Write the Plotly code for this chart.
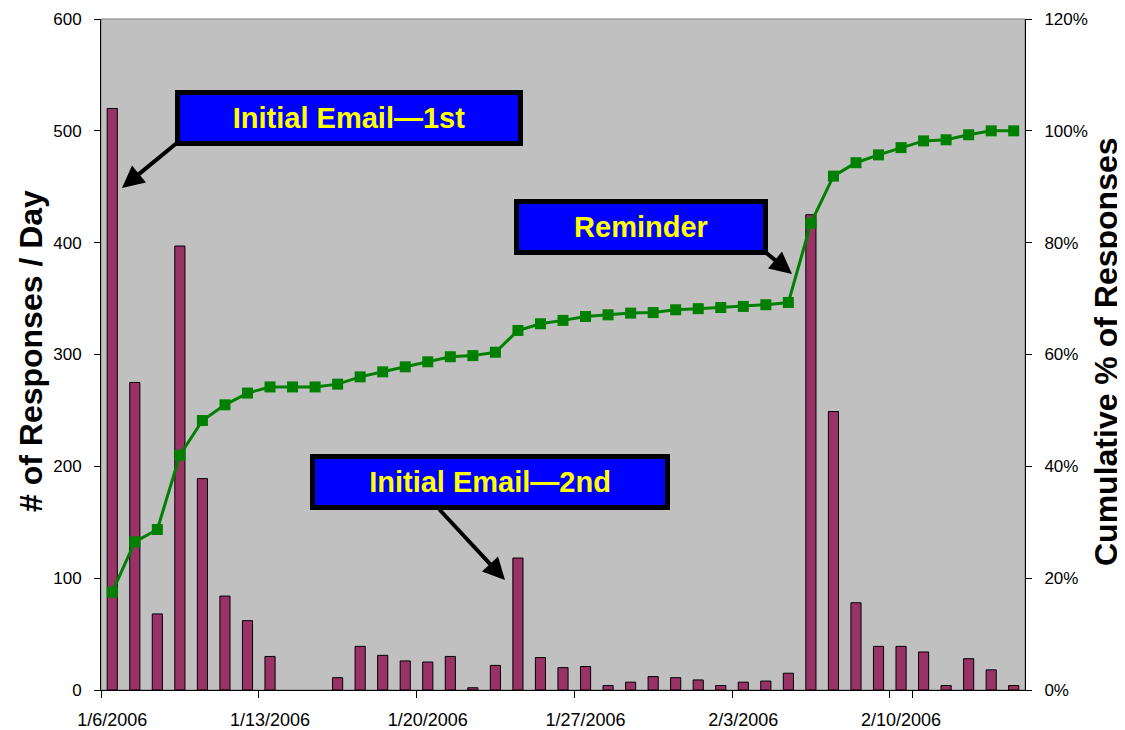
import pandas as pd
import plotly.graph_objects as go

# ---------------- data ----------------
dates = [d.strftime("%-m/%-d/%Y") for d in pd.date_range("2006-01-06", "2006-02-15", freq="D")]

responses_per_day = [520, 275, 68, 397, 189, 84, 62, 30, 0, 0,
                     11, 39, 31, 26, 25, 30, 2, 22, 118, 29,
                     20, 21, 4, 7, 12, 11, 9, 4, 7, 8,
                     15, 425, 249, 78, 39, 39, 34, 4, 28, 18,
                     4]

cumulative_pct = [17.5, 26.5, 28.7, 42.0, 48.2, 51.0, 53.1, 54.2, 54.2, 54.2,
                  54.7, 56.0, 56.9, 57.8, 58.7, 59.6, 59.8, 60.4, 64.3, 65.5,
                  66.1, 66.8, 67.1, 67.4, 67.5, 68.0, 68.2, 68.4, 68.6, 68.9,
                  69.3, 83.5, 91.9, 94.3, 95.7, 97.0, 98.2, 98.4, 99.3, 100.0,
                  100.0]

tick_labels = ["1/6/2006", "1/13/2006", "1/20/2006", "1/27/2006", "2/3/2006", "2/10/2006"]

left_title = "# of Responses / Day"
right_title = "Cumulative % of Responses"
callouts = ["Initial Email\u20141st", "Reminder", "Initial Email\u20142nd"]

FONT = "Arial, Liberation Sans, Helvetica, sans-serif"

# plot area in window pixels (page body adds an 8px offset)
OFF = 8
L, R, T, B = 101, 1025, 19, 690
W, H = R - L, B - T
FW, FH = 1125, 730


def px(X):
    return (X - L) / W


def py(Y):
    return (B - Y) / H


fig = go.Figure()
fig.add_trace(go.Bar(
    x=dates, y=responses_per_day,
    marker=dict(color="#993366",
                line=dict(color="black", width=[1 if v > 0 else 0 for v in responses_per_day])),
    yaxis="y", showlegend=False,
))
fig.add_trace(go.Scatter(
    x=dates, y=cumulative_pct, yaxis="y2", mode="lines+markers",
    line=dict(color="#008000", width=3),
    marker=dict(symbol="square", size=11, color="#008000"),
    showlegend=False,
))

annotations = []
# arrows (tail -> head), drawn first so the boxes cover the tails
arrows = [((178, 142), (122, 188)), ((764, 251), (792, 274)), ((438, 508), (505, 580))]
for (tx, ty), (hx, hy) in arrows:
    annotations.append(dict(
        xref="paper", yref="paper", x=px(hx), y=py(hy), ax=tx - hx, ay=ty - hy,
        text="", showarrow=True, arrowhead=2, arrowsize=1.1, arrowwidth=4,
        arrowcolor="black", standoff=0, startstandoff=0,
    ))

boxes = [((348.5, 118.5), 338), ((640.5, 227.5), 244), ((490, 482), 350)]
for text, ((cx, cy), bw) in zip(callouts, boxes):
    annotations.append(dict(
        xref="paper", yref="paper", x=px(cx), y=py(cy), xanchor="center", yanchor="middle",
        text="<b>%s</b>" % text, showarrow=False,
        font=dict(family=FONT, size=29, color="#FFFF00"),
        bgcolor="#0000FF", bordercolor="black", borderwidth=5, borderpad=0,
        width=bw, height=46,
    ))

# axis titles
annotations.append(dict(
    xref="paper", yref="paper", x=px(31), y=py(351), xanchor="center", yanchor="middle",
    text="<b>%s</b>" % left_title, textangle=-90, showarrow=False,
    font=dict(family=FONT, size=32, color="black"),
))
annotations.append(dict(
    xref="paper", yref="paper", x=px(1106), y=py(352), xanchor="center", yanchor="middle",
    text="<b>%s</b>" % right_title, textangle=-90, showarrow=False,
    font=dict(family=FONT, size=32, color="black"),
))

fig.update_layout(
    width=FW, height=FH,
    margin=dict(l=L - OFF, r=FW + OFF - R, t=T - OFF, b=FH + OFF - B, pad=0, autoexpand=False),
    paper_bgcolor="white", plot_bgcolor="#C0C0C0",
    bargap=0.55,
    font=dict(family=FONT, color="black"),
    xaxis=dict(
        type="category", range=[-0.5, len(dates) - 0.5], autorange=False,
        tickmode="array", tickvals=tick_labels, ticktext=tick_labels, tickangle=0,
        tickson="boundaries", ticks="outside", ticklen=7, tickcolor="black",
        showline=True, linecolor="black", linewidth=1, showgrid=False, zeroline=False,
        tickfont=dict(size=18), ticklabelstandoff=13, automargin=False,
    ),
    yaxis=dict(
        range=[0, 600], dtick=100, ticks="outside", ticklen=6, tickcolor="black",
        showline=True, linecolor="black", linewidth=1, showgrid=False, zeroline=False,
        tickfont=dict(size=17), ticklabelstandoff=9, automargin=False,
    ),
    yaxis2=dict(
        range=[0, 120], dtick=20, ticksuffix="%", overlaying="y", side="right", anchor="x",
        ticks="outside", ticklen=6, tickcolor="black",
        showline=True, linecolor="black", linewidth=1, showgrid=False, zeroline=False,
        tickfont=dict(size=17), ticklabelstandoff=9, automargin=False,
    ),
    shapes=[dict(type="rect", xref="paper", yref="paper", x0=0, y0=0, x1=1, y1=1,
                 line=dict(color="#808080", width=1), layer="below")],
    annotations=annotations,
)

fig.write_html("out.html")
